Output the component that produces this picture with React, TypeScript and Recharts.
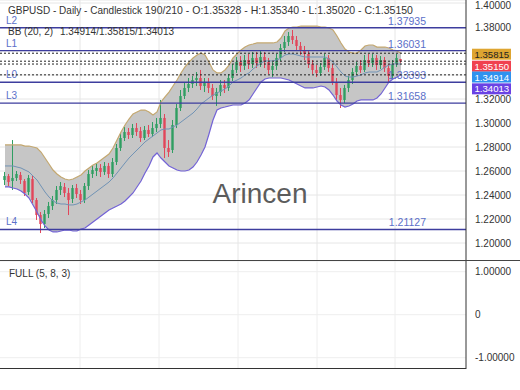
import { ComposedChart, Bar, Line, Area, XAxis, YAxis, CartesianGrid, ReferenceLine } from "recharts";

// GBPUSD daily candles (oldest -> newest)
const opens = [
  1.2525, 1.2558, 1.2517, 1.2542, 1.2567, 1.2517, 1.2425, 1.2533, 1.2358, 1.2233,
  1.2158, 1.2242, 1.2308, 1.2358, 1.2442, 1.2467, 1.2417, 1.2367, 1.2458, 1.2408,
  1.2358, 1.2475, 1.2575, 1.26, 1.2625, 1.2592, 1.2642, 1.2575, 1.2675, 1.2792,
  1.2875, 1.2925, 1.29, 1.2958, 1.2933, 1.2875, 1.2942, 1.2908, 1.2958, 1.2992,
  1.3042, 1.2792, 1.2775, 1.2983, 1.3125, 1.3225, 1.3292, 1.3325, 1.3358, 1.3375,
  1.3308, 1.3342, 1.3292, 1.3225, 1.3258, 1.3317, 1.3292, 1.3375, 1.3442, 1.3508,
  1.3475, 1.3525, 1.3492, 1.3542, 1.35, 1.355, 1.3508, 1.3442, 1.3475, 1.3542,
  1.3625, 1.3675, 1.3725, 1.3692, 1.3642, 1.3608, 1.3575, 1.3492, 1.3442, 1.3417,
  1.3467, 1.3542, 1.3458, 1.3342, 1.3233, 1.3192, 1.3292, 1.3358, 1.3425, 1.3475,
  1.3442, 1.3525, 1.35, 1.3542, 1.3483, 1.3525, 1.3458, 1.3392, 1.3492, 1.35328,
];
const highs = [
  1.2592, 1.2575, 1.2858, 1.26, 1.2592, 1.2533, 1.2567, 1.2558, 1.2375, 1.2258,
  1.2275, 1.2342, 1.2392, 1.2475, 1.2508, 1.25, 1.2458, 1.2483, 1.2492, 1.2442,
  1.25, 1.2608, 1.265, 1.2667, 1.2658, 1.2675, 1.2667, 1.2708, 1.2825, 1.2917,
  1.2967, 1.2958, 1.2992, 1.3, 1.2967, 1.2975, 1.2983, 1.3008, 1.3042, 1.3192,
  1.3075, 1.2858, 1.3025, 1.3158, 1.3275, 1.3333, 1.3375, 1.3392, 1.3425, 1.3442,
  1.3375, 1.3375, 1.3325, 1.3292, 1.3358, 1.3358, 1.3408, 1.3492, 1.355, 1.3558,
  1.3567, 1.3575, 1.3592, 1.3592, 1.36, 1.3592, 1.3542, 1.3508, 1.3575, 1.3658,
  1.3725, 1.3758, 1.3775, 1.3725, 1.3675, 1.3642, 1.3608, 1.3525, 1.3483, 1.35,
  1.3575, 1.3567, 1.3492, 1.3375, 1.3292, 1.3317, 1.3392, 1.3458, 1.3508, 1.3525,
  1.3567, 1.3575, 1.3575, 1.3567, 1.3558, 1.355, 1.3492, 1.3525, 1.3575, 1.3534,
];
const lows = [
  1.2483, 1.2475, 1.2442, 1.2517, 1.2492, 1.2392, 1.24, 1.2333, 1.2192, 1.2083,
  1.2125, 1.2208, 1.2275, 1.2325, 1.24, 1.2383, 1.2233, 1.2333, 1.2375, 1.2325,
  1.2333, 1.2442, 1.2542, 1.2558, 1.255, 1.2567, 1.2542, 1.255, 1.265, 1.2767,
  1.285, 1.2867, 1.2875, 1.2892, 1.2842, 1.2858, 1.2883, 1.2883, 1.2925, 1.2958,
  1.2708, 1.2717, 1.275, 1.2958, 1.31, 1.32, 1.3258, 1.3292, 1.3308, 1.3275,
  1.3258, 1.325, 1.3192, 1.3142, 1.3225, 1.325, 1.3267, 1.335, 1.3417, 1.3425,
  1.3442, 1.345, 1.3458, 1.3458, 1.3467, 1.3458, 1.3408, 1.3383, 1.3442, 1.3517,
  1.3592, 1.3642, 1.3658, 1.3608, 1.3567, 1.3525, 1.3458, 1.3408, 1.3383, 1.3392,
  1.3442, 1.3425, 1.3317, 1.3192, 1.3125, 1.3167, 1.3258, 1.3325, 1.34, 1.3417,
  1.3425, 1.3467, 1.3467, 1.3442, 1.345, 1.3425, 1.3333, 1.3367, 1.3467, 1.3502,
];
const closes = [
  1.2558, 1.2508, 1.2542, 1.2575, 1.2525, 1.2417, 1.2542, 1.2358, 1.2233, 1.2158,
  1.2242, 1.2308, 1.2358, 1.2442, 1.2475, 1.2417, 1.2358, 1.2458, 1.2408, 1.2358,
  1.2475, 1.2575, 1.2608, 1.2625, 1.2592, 1.2642, 1.2575, 1.2675, 1.2792, 1.2875,
  1.2925, 1.29, 1.2958, 1.2925, 1.2875, 1.2942, 1.2908, 1.2958, 1.2992, 1.3042,
  1.2792, 1.2758, 1.2983, 1.3125, 1.3225, 1.3292, 1.3325, 1.3358, 1.3375, 1.3308,
  1.3342, 1.3292, 1.3225, 1.3258, 1.3317, 1.3292, 1.3375, 1.3442, 1.3508, 1.3475,
  1.3525, 1.3492, 1.3542, 1.35, 1.355, 1.3508, 1.3442, 1.3475, 1.3542, 1.3625,
  1.3675, 1.3725, 1.3692, 1.3642, 1.3608, 1.3575, 1.3492, 1.3442, 1.3417, 1.3467,
  1.3542, 1.3458, 1.3342, 1.3233, 1.3192, 1.3292, 1.3358, 1.3425, 1.3475, 1.3442,
  1.3525, 1.35, 1.3542, 1.3483, 1.3525, 1.3458, 1.3392, 1.3492, 1.3542, 1.3515,
];

// Bollinger bands (20, 2)
const bbUpper = [
  1.2817, 1.2817, 1.2817, 1.2817, 1.2817, 1.2808, 1.2808, 1.28, 1.2792, 1.2758,
  1.2708, 1.2658, 1.2608, 1.2575, 1.255, 1.2533, 1.2525, 1.2533, 1.255, 1.2567,
  1.26, 1.2625, 1.265, 1.2667, 1.2692, 1.2717, 1.2742, 1.2792, 1.2858, 1.2925,
  1.2983, 1.3033, 1.3075, 1.3092, 1.3108, 1.3108, 1.3092, 1.3067, 1.3092, 1.3175,
  1.3217, 1.3258, 1.3308, 1.3358, 1.3417, 1.3467, 1.3508, 1.3542, 1.3567, 1.3583,
  1.3567, 1.3508, 1.3442, 1.3417, 1.3417, 1.3442, 1.3483, 1.3542, 1.3575, 1.3608,
  1.3633, 1.365, 1.3658, 1.3667, 1.3667, 1.3667, 1.3667, 1.3667, 1.3675, 1.3708,
  1.3767, 1.3792, 1.38, 1.38, 1.3808, 1.3808, 1.3808, 1.3808, 1.3808, 1.38,
  1.38, 1.3792, 1.3775, 1.3725, 1.3667, 1.3617, 1.3592, 1.3583, 1.3583, 1.3608,
  1.3642, 1.365, 1.365, 1.3633, 1.3633, 1.3633, 1.3625, 1.3608, 1.36, 1.35815,
];
const bbMid = [
  1.2642, 1.2642, 1.2642, 1.2633, 1.2625, 1.2608, 1.2592, 1.2558, 1.2525, 1.2475,
  1.2425, 1.2383, 1.235, 1.2333, 1.2325, 1.2325, 1.2317, 1.2317, 1.2325, 1.2342,
  1.2358, 1.2383, 1.2408, 1.2433, 1.2458, 1.2483, 1.2508, 1.2542, 1.2583, 1.2625,
  1.2667, 1.2708, 1.2742, 1.2775, 1.2808, 1.2842, 1.2867, 1.2892, 1.2917, 1.2942,
  1.295, 1.295, 1.2967, 1.2983, 1.3008, 1.3033, 1.3058, 1.3083, 1.3117, 1.3158,
  1.3183, 1.3208, 1.3233, 1.325, 1.3267, 1.3283, 1.3308, 1.3342, 1.3358, 1.3375,
  1.34, 1.3417, 1.345, 1.3475, 1.35, 1.3517, 1.3517, 1.3517, 1.3525, 1.3542,
  1.3567, 1.3575, 1.3575, 1.3567, 1.3558, 1.355, 1.355, 1.355, 1.355, 1.355,
  1.355, 1.3533, 1.3508, 1.3467, 1.3425, 1.3392, 1.3383, 1.3383, 1.3392, 1.34,
  1.3417, 1.3425, 1.3425, 1.3425, 1.3442, 1.3467, 1.3483, 1.3492, 1.3492, 1.34914,
];
const bbLower = [
  1.2467, 1.2467, 1.2458, 1.245, 1.2433, 1.2408, 1.2375, 1.2317, 1.2258, 1.2192,
  1.2142, 1.2108, 1.2092, 1.2092, 1.21, 1.2108, 1.2108, 1.21, 1.21, 1.2117,
  1.2125, 1.215, 1.2175, 1.22, 1.2225, 1.225, 1.2275, 1.2292, 1.2308, 1.2325,
  1.235, 1.2383, 1.2417, 1.2467, 1.2517, 1.2583, 1.2642, 1.2717, 1.275, 1.2708,
  1.2675, 1.2642, 1.2625, 1.2608, 1.26, 1.26, 1.2608, 1.2633, 1.2675, 1.2733,
  1.28, 1.2908, 1.3025, 1.3108, 1.3125, 1.3133, 1.3142, 1.315, 1.315, 1.315,
  1.3167, 1.3192, 1.3242, 1.3292, 1.3342, 1.3367, 1.3375, 1.3375, 1.3375, 1.3375,
  1.3367, 1.3358, 1.3342, 1.3325, 1.3308, 1.3292, 1.3292, 1.3292, 1.33, 1.3308,
  1.33, 1.3275, 1.3233, 1.3183, 1.315, 1.3133, 1.3142, 1.3158, 1.3183, 1.3192,
  1.3192, 1.3192, 1.3192, 1.3208, 1.3242, 1.3292, 1.3342, 1.3367, 1.3383, 1.34013,
];

// support / resistance levels
const levelNames = ["L2", "L1", "L0", "L3", "L4"];
const levelValues = [1.37935, 1.36031, 1.33393, 1.31658, 1.21127];

const priceTicks = [1.2, 1.22, 1.24, 1.26, 1.28, 1.3, 1.32, 1.34, 1.36, 1.38, 1.4];
// these two sit behind the value tags in the original
const coveredTicks = [1.34, 1.36];
const stochTicks = [-1, 0, 1];

const UP = "#2f9e62";
const DOWN = "#e2465a";
const FONT = "'Liberation Sans', Arial, sans-serif";
const gridX = [80, 159, 238, 317, 395];

const rows = closes.map((c, i) => ({
  i,
  open: opens[i],
  high: highs[i],
  low: lows[i],
  close: c,
  upper: bbUpper[i],
  mid: bbMid[i],
  lower: bbLower[i],
}));
const last = rows[rows.length - 1];

// right-hand value tags, stacked like the original
const tags = [
  { value: last.upper, fill: "#dea531", text: "#222", shift: 1 },
  { value: last.close, fill: "#f0414f", text: "#fff", shift: 5 },
  { value: last.mid, fill: "#2f92f0", text: "#fff", shift: 13 },
  { value: last.lower, fill: "#6a42e4", text: "#fff", shift: 14 },
];

function Candle(props: any) {
  const { x, y, width, height, payload } = props;
  if (!payload) return null;
  const { open, close, high, low } = payload;
  const top = Math.min(y, y + height);
  const h = Math.abs(height);
  const k = h / (high - low || 1);
  const bodyTop = top + (high - Math.max(open, close)) * k;
  const bodyH = Math.max(1, Math.abs(open - close) * k);
  const cx = x + width / 2;
  const color = close >= open ? UP : DOWN;
  return (
    <g>
      <line x1={cx} x2={cx} y1={top} y2={top + h} stroke={color} strokeWidth={1} />
      <rect x={cx - 1.2} y={bodyTop} width={2.4} height={bodyH} fill={color} />
    </g>
  );
}

function LevelLabel(props: any) {
  const { viewBox, name, value } = props;
  if (!viewBox) return null;
  return (
    <g fontFamily={FONT} fill="#5b6fc9">
      <text x={viewBox.x + 6} y={viewBox.y - 4} fontSize={10}>{name}</text>
      <text x={viewBox.x + 426} y={viewBox.y - 3} fontSize={10.5} textAnchor="end">
        {value.toFixed(5)}
      </text>
    </g>
  );
}

function TagLabel(props: any) {
  const { viewBox, value, fill, text, shift } = props;
  if (!viewBox) return null;
  const x0 = viewBox.x + viewBox.width + 6;
  const cy = viewBox.y + shift;
  return (
    <g fontFamily={FONT}>
      <rect x={x0} y={cy - 5.5} width={39} height={11} fill={fill} />
      <text x={x0 + 2.5} y={cy + 3.5} fontSize={9.6} fill={text}>{value.toFixed(5)}</text>
    </g>
  );
}

export default function App() {
  return (
    <div style={{ position: "absolute", left: 0, top: 0, width: 520, height: 390, background: "#fff", overflow: "hidden" }}>
      <div style={{ position: "absolute", left: 0, top: 0 }}>
        <ComposedChart width={520} height={261} data={rows} margin={{ top: 0, right: 0, bottom: 0, left: 0 }}>
          <CartesianGrid stroke="#e6e6e6" verticalPoints={gridX} />
          <XAxis dataKey="i" type="number" domain={[-1.25, 115.25]} hide />
          <YAxis
            orientation="right"
            width={54}
            domain={[1.185, 1.4025]}
            ticks={priceTicks}
            allowDataOverflow
            tickFormatter={(v: number) => (coveredTicks.includes(v) ? "" : v.toFixed(5))}
            tick={{ fontSize: 10, fill: "#333", fontFamily: FONT }}
            tickLine={false}
            tickSize={0}
            tickMargin={9}
            axisLine={{ stroke: "#333" }}
          />
          <Area
            dataKey={(d: any) => [d.lower, d.upper]}
            stroke="none"
            fill="#c6c6c6"
            fillOpacity={1}
            dot={false}
            activeDot={false}
            legendType="none"
            isAnimationActive={false}
          />
          <Line dataKey="upper" stroke="#c4a870" strokeWidth={1.2} dot={false} activeDot={false} isAnimationActive={false} />
          <Line dataKey="lower" stroke="#7363d6" strokeWidth={1.2} dot={false} activeDot={false} isAnimationActive={false} />
          <Line dataKey="mid" stroke="#7193b5" strokeWidth={1} dot={false} activeDot={false} isAnimationActive={false} />
          <Bar dataKey={(d: any) => [d.low, d.high]} barSize={3} shape={<Candle />} isAnimationActive={false} />
          {levelValues.map((v, k) => (
            <ReferenceLine
              key={levelNames[k]}
              y={v}
              stroke="#3d3d9e"
              strokeWidth={1.4}
              label={<LevelLabel name={levelNames[k]} value={v} />}
            />
          ))}
          {tags.map((t, k) => (
            <ReferenceLine
              key={"tag" + k}
              y={t.value}
              stroke="#222"
              strokeDasharray="2 2"
              label={<TagLabel value={t.value} fill={t.fill} text={t.text} shift={t.shift} />}
            />
          ))}
        </ComposedChart>
      </div>
      <div style={{ position: "absolute", left: 0, top: 260, width: 520, height: 1, background: "#444" }} />
      <div style={{ position: "absolute", left: 0, top: 261 }}>
        <ComposedChart width={520} height={108} data={rows} margin={{ top: 0, right: 0, bottom: 0, left: 0 }}>
          <CartesianGrid stroke="#eeeeee" verticalPoints={gridX} />
          <XAxis dataKey="i" type="number" domain={[-1.25, 115.25]} hide />
          <YAxis
            orientation="right"
            width={54}
            type="number"
            domain={[-1.263, 1.249]}
            allowDataOverflow
            ticks={stochTicks}
            tickFormatter={(v: number) => (v === 0 ? "0" : v.toFixed(5))}
            tick={{ fontSize: 10, fill: "#333", fontFamily: FONT }}
            tickLine={false}
            tickSize={0}
            tickMargin={9}
            axisLine={{ stroke: "#333" }}
          />
          <ReferenceLine y={0} stroke="none" ifOverflow="extendDomain" />
          <Line dataKey="stoch" stroke="#333" dot={false} activeDot={false} isAnimationActive={false} />
        </ComposedChart>
      </div>
      <div style={{ position: "absolute", left: 0, top: 368, width: 466, height: 1, background: "#333" }} />
      <svg width={520} height={390} style={{ position: "absolute", left: 0, top: 0, pointerEvents: "none" }} fontFamily={FONT}>
        <text x={8} y={14} fontSize={10} fill="#333">GBPUSD - Daily - Candlestick</text>
        <text x={145} y={14} fontSize={10.5} fill="#333">
          {`190/210 - O:${last.open.toFixed(5)} - H:${last.high.toFixed(5)} - L:${last.low.toFixed(5)} - C:${last.close.toFixed(5)}`}
        </text>
        <text x={8} y={34.5} fontSize={10} fill="#333">BB (20, 2)</text>
        <text x={60} y={34.5} fontSize={10} fill="#333">
          {`${last.mid.toFixed(5)}/${last.upper.toFixed(5)}/${last.lower.toFixed(5)}`}
        </text>
        <text x={260} y={203} fontSize={28} fill="#5c5c5c" textAnchor="middle">Arincen</text>
        <text x={9} y={277} fontSize={10} fill="#333">FULL (5, 8, 3)</text>
      </svg>
    </div>
  );
}
